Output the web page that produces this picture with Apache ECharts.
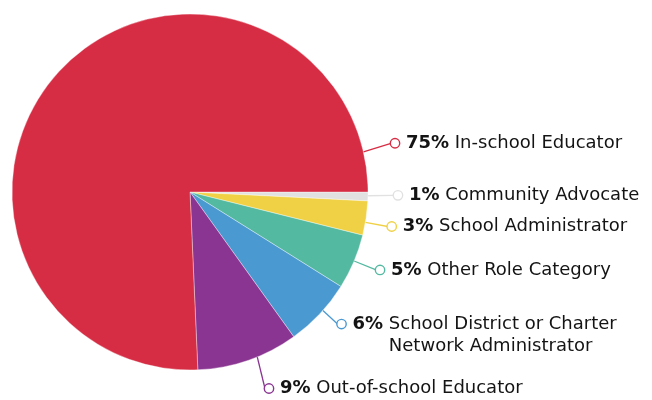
<!DOCTYPE html>
<html><head><meta charset="utf-8">
<script src="https://cdn.jsdelivr.net/npm/echarts@6/dist/echarts.min.js"></script>
<style>html,body{margin:0;padding:0;background:#fff}#c{width:652px;height:400px}</style>
</head><body><div id="c"></div>
<script>
// Data (clockwise from 3 o'clock)
const categories = ['Community Advocate', 'School Administrator', 'Other Role Category',
  'School District or Charter\nNetwork Administrator', 'Out-of-school Educator', 'In-school Educator'];
const shares = [0.8, 3.1, 5.0, 6.2, 9.2, 75.7];      // slice sizes
const pctLabels = ['1%', '3%', '5%', '6%', '9%', '75%']; // printed labels
const colors = ['#E1E1E1', '#F0D146', '#53B9A0', '#4A99D1', '#8A3591', '#D62D44'];

// label leader style: anchor angle on the rim, direction and length of leader
const leaderAngle = [1.2, 9.8, 22.8, 41.7, 67.8, -13];
const leaderDir = [-0.9, 10.7, 22.3, 43, 76.3, -17.5];
const leaderLen = [26, 22.7, 23.7, 20, 32.6, 28.9];
const FONT = '"DejaVu Sans"';
const FS = 18, LH = 22, DOT = 8, GAP = 7;
const CX = 190, CY = 192, R = 178;

function measure(txt, weight) {
  const c = document.createElement('canvas').getContext('2d');
  c.font = weight + ' ' + FS + 'px ' + FONT;
  return c.measureText(txt).width;
}

const chart = echarts.init(document.getElementById('c'), null, {renderer: 'canvas'});

const data = categories.map((name, i) => {
  const lines = name.split('\n');
  let txt = '{d' + i + '|}{sp|}{b|' + pctLabels[i] + '}{t| ' + lines[0] + '}';
  if (lines.length > 1) txt += '\n{ind' + i + '|}{t|' + lines[1] + '}';
  return {
    name, value: shares[i],
    itemStyle: {color: colors[i]},
    labelLine: {length: 10, length2: 0, lineStyle: {color: colors[i], width: 1.3}},
    label: {formatter: txt}
  };
});

const rich = {
  sp: {width: GAP},
  b: {fontFamily: FONT, fontWeight: 'bold', fontSize: FS, color: '#141414', lineHeight: LH},
  t: {fontFamily: FONT, fontWeight: 'normal', fontSize: FS, color: '#141414', lineHeight: LH}
};
colors.forEach((c, i) => {
  rich['d' + i] = {width: DOT, height: DOT, borderRadius: 6, borderColor: c, borderWidth: 1.4, backgroundColor: '#fff'};
  rich['ind' + i] = {width: DOT + GAP + measure(pctLabels[i], 'bold') + measure(' ', 'normal')};
});

chart.setOption({
  animation: false,
  series: [{
    type: 'pie',
    center: [CX, CY],
    radius: R,
    startAngle: 0,
    clockwise: true,
    avoidLabelOverlap: false,
    itemStyle: {borderColor: 'rgba(255,255,255,0.6)', borderWidth: 0.6},
    label: {position: 'outside', distanceToLabelLine: 0, rich: rich},
    labelLine: {show: true, smooth: false},
    emphasis: {disabled: true},
    labelLayout: function (p) {
      const i = p.dataIndex;
      const a = leaderAngle[i] * Math.PI / 180, d = leaderDir[i] * Math.PI / 180;
      const s = [CX + R * Math.cos(a), CY + R * Math.sin(a)];
      const e = [s[0] + leaderLen[i] * Math.cos(d), s[1] + leaderLen[i] * Math.sin(d)];
      const multi = categories[i].indexOf('\n') >= 0;
      return {
        x: e[0], y: multi ? e[1] - LH / 2 : e[1],
        align: 'left', verticalAlign: multi ? 'top' : 'middle',
        labelLinePoints: [s, e, e]
      };
    },
    data: data
  }]
});
</script>
</body></html>
